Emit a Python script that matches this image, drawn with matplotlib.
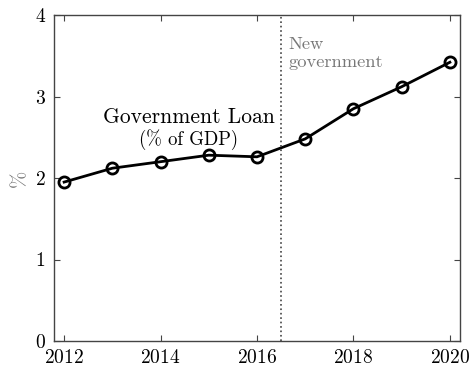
import matplotlib
matplotlib.use("Agg")
import matplotlib.pyplot as plt

years = [2012, 2013, 2014, 2015, 2016, 2017, 2018, 2019, 2020]
loan = [1.95, 2.12, 2.20, 2.28, 2.26, 2.48, 2.85, 3.12, 3.42]
xticks = [2012, 2014, 2016, 2018, 2020]
yticks = [0, 1, 2, 3, 4]
event_x = 2016.5

plt.rcParams['font.family'] = 'serif'
plt.rcParams['font.serif'] = ['cmr10']
plt.rcParams['mathtext.fontset'] = 'cm'
plt.rcParams['axes.unicode_minus'] = False
plt.rcParams['axes.formatter.use_mathtext'] = True

fig = plt.figure(figsize=(4.7, 3.67), dpi=100)
ax = fig.add_axes([54/470, 1-341/367, (460-54)/470, (341-15)/367])

ax.plot(years, loan, color='black', lw=2, marker='o', ms=8, mfc='none', mew=2)
ax.axvline(event_x, color='#444444', lw=1.2, ls=':')

ax.set_xlim(2011.79, 2020.21)
ax.set_ylim(0, 4)
ax.set_xticks(xticks)
ax.set_yticks(yticks)
ax.tick_params(direction='in', top=True, right=True, labelsize=14, color='#444444', length=4)
ax.tick_params(axis='x', pad=6)
ax.tick_params(axis='y', pad=6)
for s in ax.spines.values():
    s.set_color('#444444')
    s.set_linewidth(1)
ax.set_ylabel('%', color='#777777', fontsize=15, labelpad=4)

ax.text(2014.59, 2.74, 'Government Loan', fontsize=15.5, ha='center', va='center')
ax.text(2014.59, 2.47, '(% of GDP)', fontsize=13.5, ha='center', va='center')
ax.text(2016.65, 3.53, 'New\ngovernment', fontsize=13.3, color='#777777', ha='left', va='center', linespacing=1.25)

fig.savefig('out.png', dpi=100)
